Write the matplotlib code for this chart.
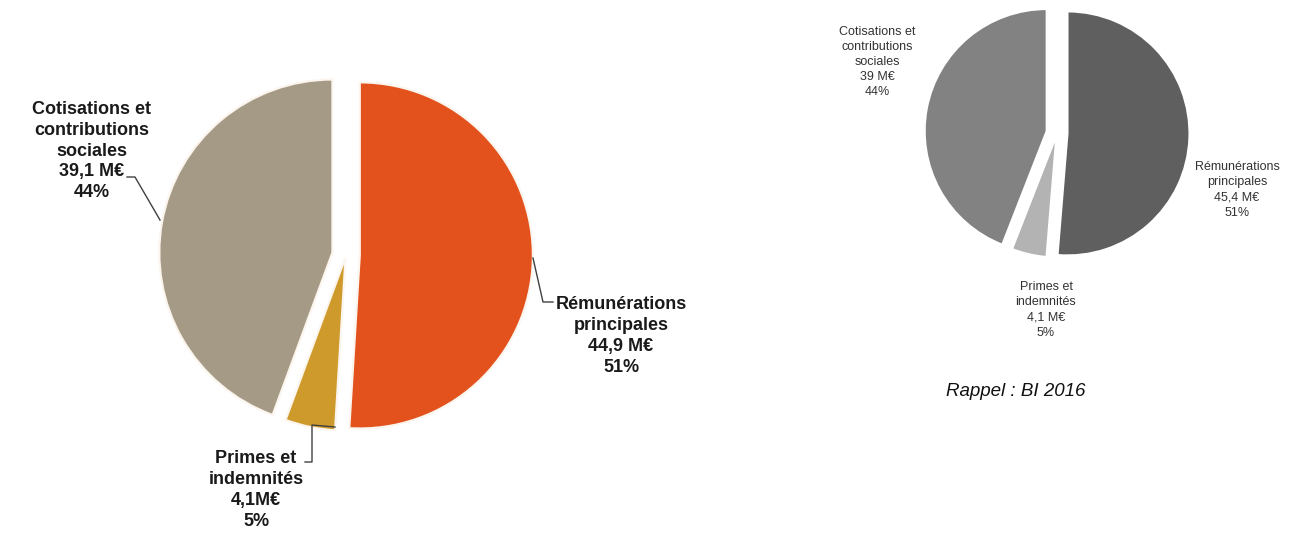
import matplotlib.pyplot as plt

plt.rcParams['font.family'] = ['Liberation Sans', 'DejaVu Sans']

W, H = 1295, 537

# BI 2017 (left) and BI 2016 reminder (right)
categories_2017 = ["Rémunérations\nprincipales", "Primes et\nindemnités", "Cotisations et\ncontributions\nsociales"]
montants_2017 = [44.9, 4.1, 39.1]
pourcent_2017 = [51, 5, 44]
sep_2017 = [" ", "", " "]

categories_2016 = ["Rémunérations\nprincipales", "Primes et\nindemnités", "Cotisations et\ncontributions\nsociales"]
montants_2016 = [45.4, 4.1, 39]
pourcent_2016 = [51, 5, 44]

colors_2017 = ['#E3511C', '#CF9A2C', '#A59A85']
colors_2016 = ['#5F5F5F', '#B3B3B3', '#828282']


def px(x, y):
    # pixel coords (origin top-left) -> axes data coords
    return x, H - y


def label(cat, val, pct, sep=" "):
    return f"{cat}\n{val:g}".replace('.', ',') + f"{sep}M€\n{pct}%"


fig = plt.figure(figsize=(W / 100, H / 100), dpi=100)
ax = fig.add_axes([0, 0, 1, 1])

# explode is applied in data units, so scale it by the radius
r1, r2 = 173, 122
ax.pie(montants_2017, colors=colors_2017, startangle=90, counterclock=False,
       explode=[f * r1 for f in (0.08, 0.015, 0.08)], radius=r1,
       center=px(346, 255), frame=True,
       wedgeprops=dict(edgecolor='#fbf5ee', linewidth=1.5))

ax.pie(montants_2016, colors=colors_2016, startangle=90, counterclock=False,
       explode=[f * r2 for f in (0.086, 0.02, 0.086)], radius=r2,
       center=px(1057, 133), frame=True,
       wedgeprops=dict(edgecolor='white', linewidth=1.5))

ax.set_xlim(0, W)
ax.set_ylim(0, H)
ax.set_aspect('equal')
ax.axis('off')

# labels, left
pos_2017 = [(621, 336), (256, 490), (92, 151)]
for (x, y), cat, val, pct, sep in zip(pos_2017, categories_2017, montants_2017, pourcent_2017, sep_2017):
    ax.text(*px(x, y), label(cat, val, pct, sep), ha='center', va='center',
            fontsize=13, fontweight='bold', color='#1a1a1a', linespacing=1.3)

leaders = [
    [(533, 258), (543, 302), (553, 302)],
    [(335, 427), (312, 425), (312, 462), (305, 462)],
    [(127, 177), (135, 177), (160, 220)],
]
for pts in leaders:
    xs, ys = zip(*[px(x, y) for x, y in pts])
    ax.plot(xs, ys, color='#404040', lw=1)

# labels, right
pos_2016 = [(1237, 190), (1046, 310), (877, 62)]
for (x, y), cat, val, pct in zip(pos_2016, categories_2016, montants_2016, pourcent_2016):
    ax.text(*px(x, y), label(cat, val, pct), ha='center', va='center',
            fontsize=9, color='#333333', linespacing=1.35)

ax.text(*px(1016, 392), "Rappel : BI 2016", ha='center', va='center',
        fontsize=13.5, fontstyle='italic', color='#111111')

fig.savefig("out.png", dpi=100)
